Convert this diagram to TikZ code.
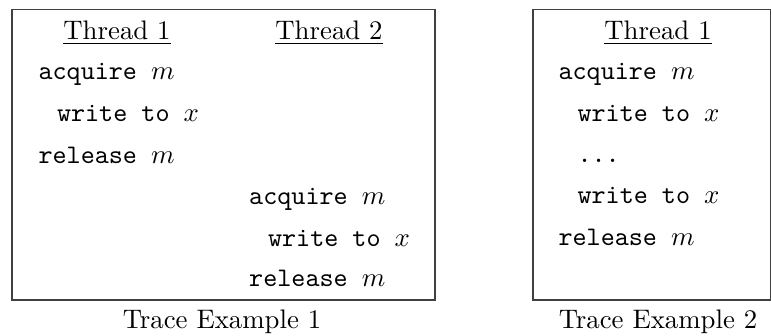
\documentclass[tikz,border=0pt]{standalone}
\newcommand\codett[1]{\texttt{#1}}
\begin{document}
\begin{tikzpicture}[x=0.3731pt,y=-0.3731pt,
  frame/.style={draw=black!75,line width=0.5pt},
  hdr/.style={inner sep=0pt,anchor=base},
  ln/.style={inner sep=0pt,anchor=base west},
  captionlbl/.style={inner sep=0pt,anchor=base}]
\useasboundingbox (0,0) rectangle (771,336);
% Trace 1
\draw[frame] (12,9.5) rectangle (435,300);
\node[hdr] (h1) at (117,39.3) {\underline{Thread 1}};
\node[hdr] (h2) at (329,39.3) {\underline{Thread 2}};
\node[ln] (a1) at (38,80) {\codett{acquire\ }$m$};
\node[ln] (w1) at (56.5,121.7) {\codett{write to\ }$x$};
\node[ln] (r1) at (38,163.3) {\codett{release\ }$m$};
\node[ln] (a2) at (248.7,204.3) {\codett{acquire\ }$m$};
\node[ln] (w2) at (267.5,246) {\codett{write to\ }$x$};
\node[ln] (r2) at (248.7,286.7) {\codett{release\ }$m$};
\node[captionlbl] (c1) at (222,329) {Trace Example 1};
% Trace 2
\draw[frame] (533,9.5) rectangle (770.5,300);
\node[hdr] (h3) at (658,39.3) {\underline{Thread 1}};
\node[ln] (a3) at (558,80) {\codett{acquire\ }$m$};
\node[ln] (w3) at (577,121.3) {\codett{write to\ }$x$};
\node[ln] (d3) at (577,162.6) {\codett{...}};
\node[ln] (w4) at (577,203.9) {\codett{write to\ }$x$};
\node[ln] (r3) at (558,245.2) {\codett{release\ }$m$};
\node[captionlbl] (c2) at (658,329) {Trace Example 2};
\end{tikzpicture}
\end{document}
